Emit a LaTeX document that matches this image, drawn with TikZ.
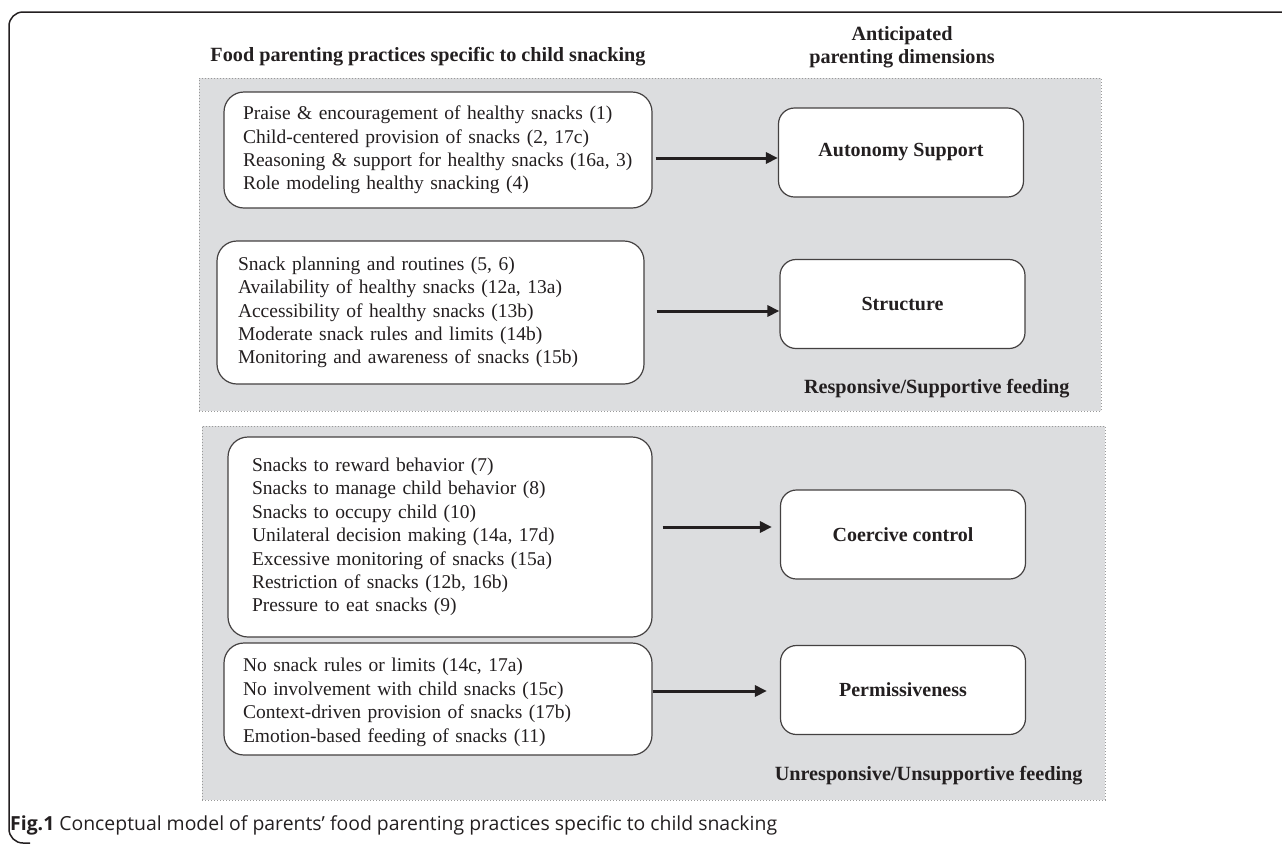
\documentclass[tikz,border=0pt]{standalone}
\usepackage{fontspec}
\setmainfont{Liberation Serif}
\newfontfamily\capfont{Open Sans}
\usetikzlibrary{arrows.meta}
\definecolor{panelgray}{RGB}{220,221,223}
\definecolor{ink}{RGB}{35,31,32}
\tikzstyle{outerframe} = [draw=ink, line width=1.5pt, rounded corners=14pt]
\tikzstyle{panel} = [draw=gray!80, dotted, fill=panelgray, line width=1pt]
\tikzstyle{practices} = [draw=ink!85, fill=white, rounded corners=20pt, align=left, font={\fontsize{19.5}{23.4}\selectfont}, inner ysep=0pt, line width=1.2pt, text=ink]
\tikzstyle{dimension} = [draw=ink!85, fill=white, rounded corners=16pt, minimum width=245pt, minimum height=89pt, font={\fontsize{20}{24}\selectfont\bfseries}, line width=1.2pt, text=ink]
\tikzstyle{link} = [-{Triangle[length=12pt,width=11pt]}, line width=3pt, draw=ink]
\tikzstyle{heading} = [font={\fontsize{20.2}{23}\selectfont\bfseries}, align=center, text=ink]

\begin{document}
\begin{tikzpicture}[x=1pt,y=-1pt]
  \useasboundingbox (0,0) rectangle (1282,844);
  \draw[outerframe] (1282,12) -- (9,12) -- (9,843) -- (30,843);
  \node[heading](title) at (428,57){Food parenting practices specific to child snacking};
  \node[heading](dims) at (902,47){Anticipated\\parenting dimensions};
  \node[panel,minimum width=902pt,minimum height=333pt](resp) at (650,244.5){};
  \node[panel,minimum width=903pt,minimum height=374pt](unresp) at (653.5,613){};
  \node[practices,text width=390pt,inner xsep=19pt,minimum height=116pt](p1) at (438,150){Praise \& encouragement of healthy snacks (1)\\Child-centered provision of snacks (2, 17c)\\Reasoning \& support for healthy snacks (16a, 3)\\Role modeling healthy snacking (4)};
  \node[practices,text width=385pt,inner xsep=21pt,minimum height=143pt](p2) at (430.5,312.5){Snack planning and routines (5, 6)\\Availability of healthy snacks (12a, 13a)\\Accessibility of healthy snacks (13b)\\Moderate snack rules and limits (14b)\\Monitoring and awareness of snacks (15b)};
  \node[practices,text width=376pt,inner xsep=24pt,minimum height=200pt](p3) at (440,537){Snacks to reward behavior (7)\\Snacks to manage child behavior (8)\\Snacks to occupy child (10)\\Unilateral decision making (14a, 17d)\\Excessive monitoring of snacks (15a)\\Restriction of snacks (12b, 16b)\\Pressure to eat snacks (9)};
  \node[practices,text width=390pt,inner xsep=19pt,minimum height=112pt](p4) at (438,699){\rule{0pt}{20pt}No snack rules or limits (14c, 17a)\\No involvement with child snacks (15c)\\Context-driven provision of snacks (17b)\\Emotion-based feeding of snacks (11)};
  \node[dimension](auto) at (901,152.5){Autonomy Support};
  \node[dimension](struct) at (902.5,304){Structure};
  \node[dimension](coerce) at (903,534.5){Coercive control};
  \node[dimension](permit) at (903,690){Permissiveness};
  \node[heading,anchor=east](resplabel) at (1073,389){Responsive/Supportive feeding};
  \node[heading,anchor=east](unresplabel) at (1086,776){Unresponsive/Unsupportive feeding};
  \node[anchor=west,inner sep=0pt,text=ink,font={\capfont\fontsize{19.4}{23}\selectfont}](caption) at (10,825){{\bfseries Fig.1} Conceptual model of parents’ food parenting practices specific to child snacking};
  \draw[link]([xshift=3pt,yshift=-8pt]p1.east) coordinate (a1) -- (a1 -| auto.west);
  \draw[link]([xshift=12pt,yshift=1.5pt]p2.east) coordinate (a2) -- (a2 -| struct.west);
  \draw[link,shorten >=8pt]([xshift=10pt,yshift=10pt]p3.east) coordinate (a3) -- (a3 -| coerce.west);
  \draw[link,shorten >=13pt]([yshift=8pt]p4.east) coordinate (a4) -- (a4 -| permit.west);
\end{tikzpicture}
\end{document}
